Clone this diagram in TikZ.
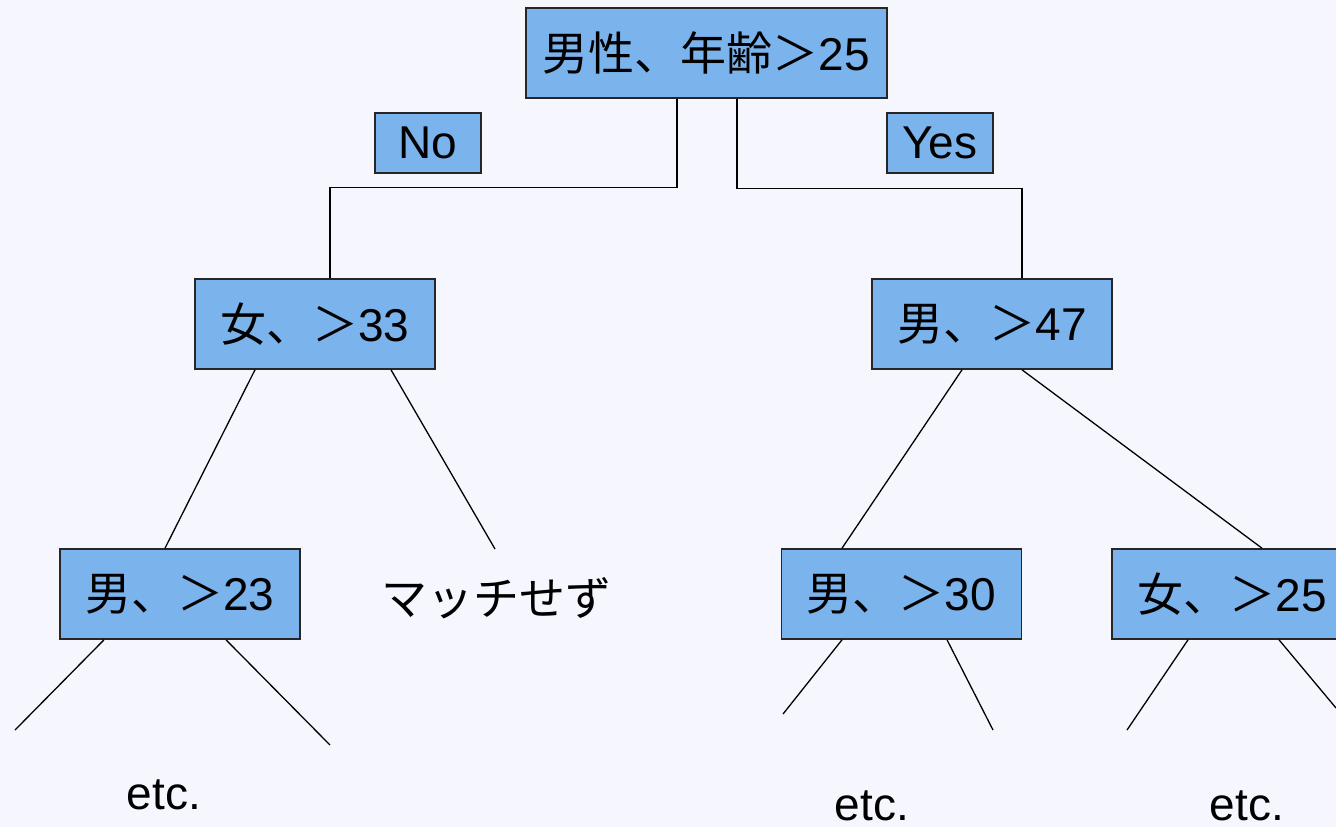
\documentclass[tikz,border=0pt]{standalone}
\usepackage{fontspec}
\setmainfont{Liberation Sans}
\newfontfamily\jpfont{Noto Sans CJK JP}
\newcommand\jpt[1]{{\jpfont #1}}
\usetikzlibrary{calc}
\definecolor{pagebg}{HTML}{F6F7FE}
\definecolor{boxfill}{HTML}{7BB3EC}
\begin{document}
\begin{tikzpicture}[x=0.5pt,y=-0.5pt,
  box/.style={draw=black!85, line width=0.8pt, fill=boxfill, inner sep=0pt,
    minimum width=120pt, minimum height=45pt, font=\fontsize{23}{27}\selectfont},
  rootbox/.style={box, minimum width=180.5pt},
  tagbox/.style={box, minimum width=53pt, minimum height=30pt},
  leaf/.style={inner sep=0pt, font=\fontsize{23}{27}\selectfont},
  link/.style={line width=0.65pt, black}]
% page
\clip (0,0) rectangle (1336,827);
\fill[pagebg] (0,0) rectangle (1336,827);

% decision nodes
\node[rootbox] (root) at (706.5,53) {\jpt{男性、年齢＞}25};
\node[tagbox] (no)  at (428,143) {No};
\node[tagbox] (yes) at (940,143) {Yes};
\node[box] (f33) at (315,324) {\jpt{女、＞}33};
\node[box] (m47) at (992,324) {\jpt{男、＞}47};
\node[box] (m23) at (180,594) {\jpt{男、＞}23};
\node[box] (m30) at (901.5,594) {\jpt{男、＞}30};
\node[box] (f25) at (1232,594) {\jpt{女、＞}25};

% leaf texts
\node[leaf] (nomatch) at (496,598) {\jpt{マッチせず}};
\node[leaf] (etcA) at (164,795) {etc.};
\node[leaf] (etcB) at (872,806) {etc.};
\node[leaf] (etcC) at (1247,806) {etc.};

% free ends of the open branches
\coordinate (nm) at (495,549);
\coordinate (a1) at (15,730);
\coordinate (a2) at (330,745);
\coordinate (b1) at (783,714);
\coordinate (b2) at (993,730);
\coordinate (c1) at (1127,730);
\coordinate (c2) at (1336,708);

% first split
\draw[link] ($(root.south)+(-29.5,0)$) -- ++(0,89) -| ($(f33.north)+(15,0)$);
\draw[link] ($(root.south)+(30.5,0)$) -- ++(0,90) -| ($(m47.north)+(30,0)$);

% second level
\draw[link] ($(f33.south)+(-60,0)$) -- ($(m23.north)+(-15,0)$);
\draw[link] ($(f33.south)+(76,0)$) -- (nm);
\draw[link] ($(m47.south)+(-30,0)$) -- ($(m30.north)+(-59.5,0)$);
\draw[link] ($(m47.south)+(30,0)$) -- ($(f25.north)+(30,0)$);

% third level
\draw[link] ($(m23.south)+(-76,0)$) -- (a1);
\draw[link] ($(m23.south)+(46,0)$) -- (a2);
\draw[link] ($(m30.south)+(-59.5,0)$) -- (b1);
\draw[link] ($(m30.south)+(45.5,0)$) -- (b2);
\draw[link] ($(f25.south)+(-44,0)$) -- (c1);
\draw[link] ($(f25.south)+(47,0)$) -- (c2);
\end{tikzpicture}
\end{document}
